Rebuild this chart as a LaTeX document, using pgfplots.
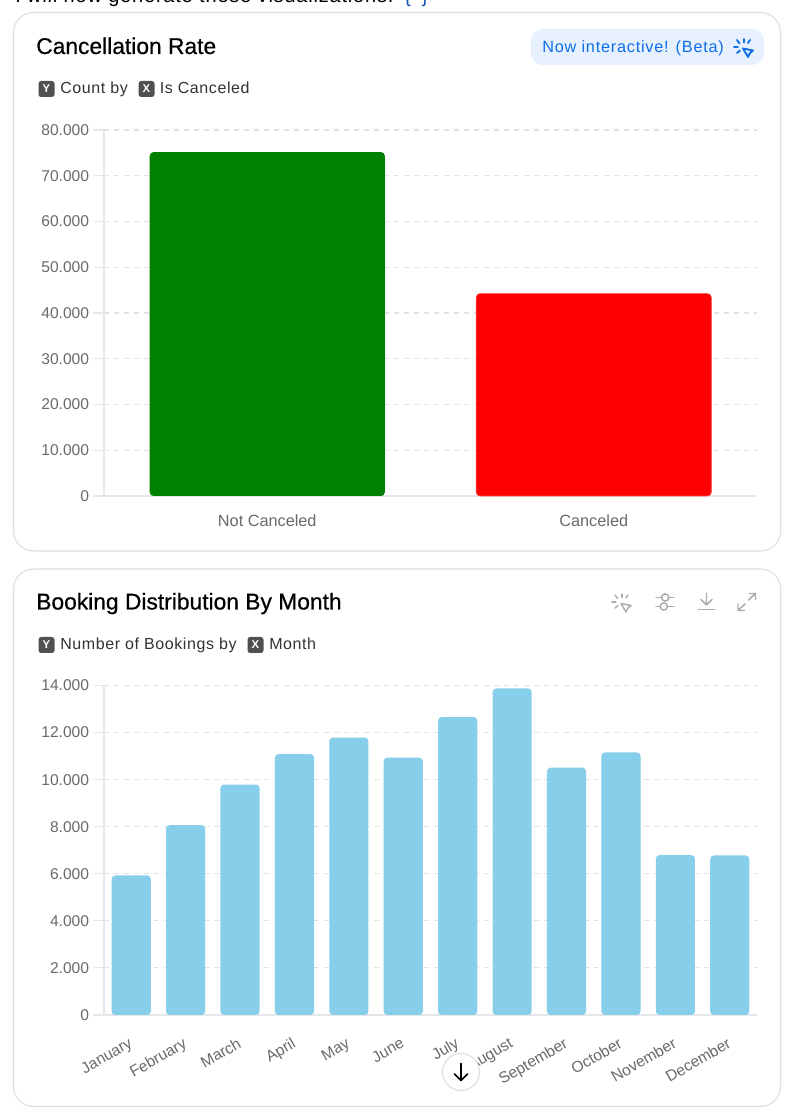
\documentclass[border=0pt]{standalone}
\usepackage{fontspec}
\setmainfont{Liberation Sans}
\newfontfamily\headfont[FakeBold=0.6]{Liberation Sans}
\newfontfamily\spacedfont[LetterSpace=3.7]{Liberation Sans}
\newfontfamily\btnfont[LetterSpace=4.7]{Liberation Sans}
\newfontfamily\topfont[LetterSpace=4]{Liberation Sans}
\usepackage{pgfplots}
\pgfplotsset{compat=1.18}
\definecolor{cardline}{HTML}{DEDEDE}
\definecolor{gridc}{HTML}{E0E2E5}
\definecolor{axisc}{HTML}{E6E7EA}
\definecolor{tickc}{HTML}{6A6A6A}
\definecolor{blueb}{HTML}{E6F0FF}
\definecolor{bluet}{HTML}{0F6FE8}
\definecolor{braceb}{HTML}{1352B5}
\definecolor{iconc}{HTML}{ABABAB}
\definecolor{badge}{HTML}{505050}
\definecolor{subt}{HTML}{333333}
\definecolor{skybar}{HTML}{87CEEB}
\newcommand{\tickf}{\fontsize{11.7}{14}\selectfont}
\newcommand{\catf}{\fontsize{12.2}{14}\selectfont}
\newcommand{\subf}{\spacedfont\fontsize{12}{14}\selectfont}
\newcommand{\titlef}{\headfont\fontsize{17.1}{20}\selectfont}
\pgfplotstableread{
x y
0 5929
1 8068
2 9794
3 11089
4 11791
5 10939
6 12661
7 13877
8 10508
9 11160
10 6794
11 6780
}\monthdata
\pgfplotsset{
  chart/.style={
    scale only axis, anchor=south west, ymin=0, clip=false,
    axis x line*=bottom, axis y line*=left,
    axis line style={draw=axisc, line width=1.1pt, -},
    tick align=outside, major tick length=8pt,
    xtick style={draw=none}, ytick style={draw=axisc, line width=0.8pt},
    ymajorgrids, grid style={draw=gridc, line width=0.8pt, dash pattern=on 3.75pt off 3.75pt},
    scaled y ticks=false,
    /pgf/number format/assume math mode=true,
    /pgf/number format/1000 sep={.},
    /pgf/number format/min exponent for 1000 sep=0,
    yticklabel style={font=\tickf, text=tickc, inner sep=0pt, xshift=-3pt},
    xticklabel style={font=\catf, text=tickc},
    ybar, bar width=0.72, bar shift=0pt,
  },
  rbar/.style={draw=none, rounded corners=2.8pt},
}
\newcommand{\clickicon}[4]{% x, y, colour, width
  \begin{scope}[shift={(#1,#2)}, draw=#3, line width=#4, line cap=round, line join=round]
    \draw (0,-8) -- (0,-4.5);
    \draw (-7,-7) -- (-4.5,-3.5);
    \draw (-10,0) -- (-6,0);
    \draw (-7,6) -- (-4,3.5);
    \draw (6,-7) -- (4,-4);
    \draw (-1,1.5) -- (9,3.5) -- (6,6) -- (4,10) -- cycle;
  \end{scope}}
\begin{document}
\begin{tikzpicture}
\path[use as bounding box] (0,0) rectangle (600pt,837.75pt);
\clip (0,0) rectangle (600pt,837.75pt);
\fill[white] (0,0) rectangle (600pt,837.75pt);

\begin{scope}[x=0.75pt,y=-0.75pt,yshift=837.75pt]
  % cards
  \draw[cardline, line width=0.8pt, rounded corners=15pt] (13.5,12.5) rectangle (780.5,551);
  \draw[cardline, line width=0.8pt, rounded corners=15pt] (13.5,569) rectangle (780.5,1106.5);
  % cut-off line above the first card
  \node[anchor=base west, inner sep=0pt, text=black, font=\topfont\fontsize{15}{18}\selectfont] at (15,3) {I will now generate these visualizations:};
  \node[anchor=base west, inner sep=0pt, text=braceb, font=\fontsize{15}{18}\selectfont] at (404,3) {\{\hspace{8pt}\}};
  % titles
  \node[anchor=base west, inner sep=0pt] at (36,54) {\titlef Cancellation Rate};
  \node[anchor=base west, inner sep=0pt] at (36,609.5) {\titlef Booking Distribution By Month};
  % interactive badge
  \fill[blueb, rounded corners=9pt] (531,29) rectangle (764,65);
  \node[anchor=base west, inner sep=0pt, text=bluet, font=\btnfont\fontsize{12.2}{14}\selectfont] at (542,52.5) {Now interactive! (Beta)};
  \clickicon{744}{47}{bluet}{1.4pt}
  % subtitles
  \fill[badge, rounded corners=2pt] (38.5,81) rectangle (54.5,97);
  \node[text=white, font=\bfseries\fontsize{8.5}{10}\selectfont, inner sep=0pt] at (46.5,89) {Y};
  \node[anchor=base west, inner sep=0pt, text=subt, font=\subf] at (60,94) {Count by};
  \fill[badge, rounded corners=2pt] (138.5,81) rectangle (154.5,97);
  \node[text=white, font=\bfseries\fontsize{8.5}{10}\selectfont, inner sep=0pt] at (146.5,89) {X};
  \node[anchor=base west, inner sep=0pt, text=subt, font=\subf] at (159.5,94) {Is Canceled};
  \fill[badge, rounded corners=2pt] (38.5,637) rectangle (54.5,653);
  \node[text=white, font=\bfseries\fontsize{8.5}{10}\selectfont, inner sep=0pt] at (46.5,645) {Y};
  \node[anchor=base west, inner sep=0pt, text=subt, font=\subf] at (60,650) {Number of Bookings by};
  \fill[badge, rounded corners=2pt] (247.5,637) rectangle (263.5,653);
  \node[text=white, font=\bfseries\fontsize{8.5}{10}\selectfont, inner sep=0pt] at (255.5,645) {X};
  \node[anchor=base west, inner sep=0pt, text=subt, font=\subf] at (269,650) {Month};
  % tool icons, second card
  \clickicon{622}{602}{iconc}{1.1pt}
  \begin{scope}[draw=iconc, line width=1.1pt, line cap=round, line join=round]
    \draw (656,597.5) -- (661,597.5) (669.5,597.5) -- (674,597.5);
    \draw (665.2,597.5) circle (3.6);
    \draw (656,606.5) -- (659.5,606.5) (668,606.5) -- (674,606.5);
    \draw (663.8,606.5) circle (3.6);
    \draw (706.5,593) -- (706.5,605) (701,599.5) -- (706.5,605) -- (712,599.5);
    \draw (698.5,609.5) -- (714.5,609.5);
    \draw (748.5,600) -- (755,594) (749.5,593.5) -- (755.5,593.5) -- (755.5,599.5);
    \draw (738.5,610) -- (745,604) (738,604) -- (738,610.5) -- (744.5,610.5);
  \end{scope}
\end{scope}

\begin{axis}[chart, at={(78pt,465.75pt)}, width=489.75pt, height=274.5pt,
  xmin=-0.5, xmax=1.5, ymax=80000, ytick distance=10000,
  xtick={0,1}, xticklabels={Not Canceled,Canceled},
  xticklabel style={yshift=-2.25pt}]
  \addplot[rbar, fill=green!50!black] coordinates {(0,75166)};
  \addplot[rbar, fill=red, draw=red!75!white, line width=0.5pt] coordinates {(1,44224)};
\end{axis}

\begin{axis}[chart, at={(78pt,76.5pt)}, width=489.75pt, height=247.1pt,
  xmin=-0.5, xmax=11.5, ymax=14000, ytick distance=2000,
  xtick={0,...,11},
  xticklabels={January,February,March,April,May,June,July,August,September,October,November,December},
  xticklabel style={font=\tickf, rotate=30, anchor=north east, xshift=-3pt, yshift=-2.5pt}]
  \addplot[rbar, fill=skybar] table {\monthdata};
\end{axis}

\begin{scope}[x=0.75pt,y=-0.75pt,yshift=837.75pt]
  % scroll button over the axis labels
  \draw[draw=cardline, fill=white, line width=0.8pt] (461,1072) circle (18.5);
  \draw[black, line width=1.2pt, line cap=round, line join=round] (461,1063.5) -- (461,1080.5) (454.5,1074) -- (461,1080.5) -- (467.5,1074);
\end{scope}
\end{tikzpicture}
\end{document}
